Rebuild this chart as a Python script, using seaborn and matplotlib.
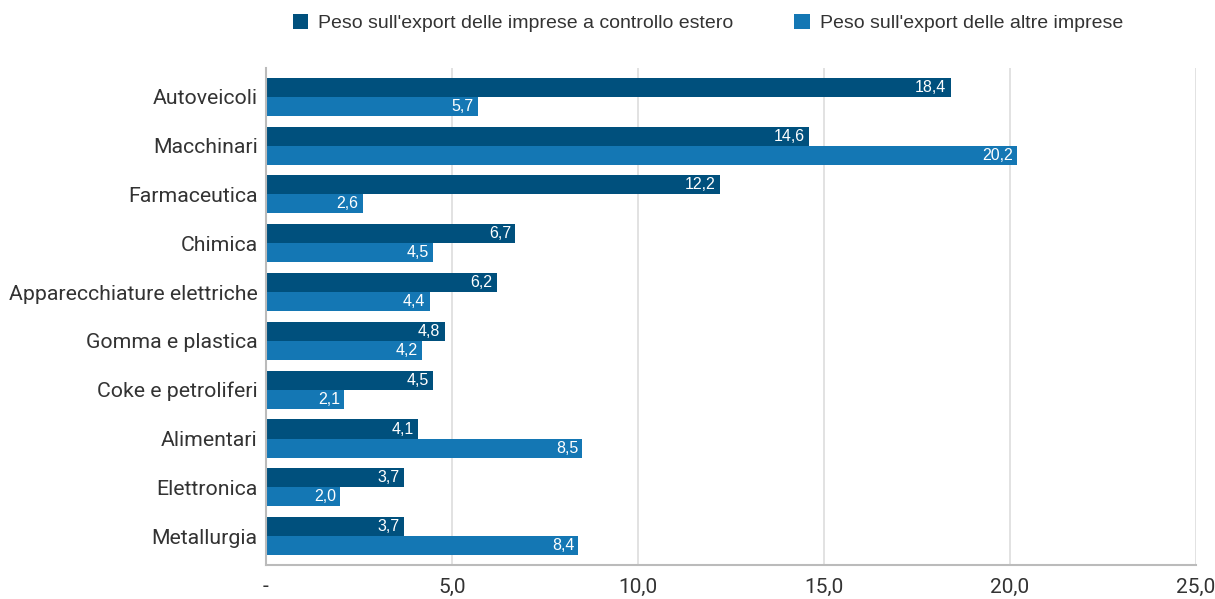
import matplotlib
matplotlib.use("Agg")
import matplotlib.pyplot as plt
import seaborn as sns
import pandas as pd

categories = ["Autoveicoli", "Macchinari", "Farmaceutica", "Chimica",
              "Apparecchiature elettriche", "Gomma e plastica",
              "Coke e petroliferi", "Alimentari", "Elettronica", "Metallurgia"]
estero = [18.4, 14.6, 12.2, 6.7, 6.2, 4.8, 4.5, 4.1, 3.7, 3.7]
altre = [5.7, 20.2, 2.6, 4.5, 4.4, 4.2, 2.1, 8.5, 2.0, 8.4]
series_names = ["Peso sull'export delle imprese a controllo estero",
                "Peso sull'export delle altre imprese"]
xticks = [0, 5, 10, 15, 20, 25]
xtick_labels = ["-", "5,0", "10,0", "15,0", "20,0", "25,0"]

df = pd.DataFrame({
    "cat": categories * 2,
    "val": estero + altre,
    "serie": [series_names[0]] * len(categories) + [series_names[1]] * len(categories),
})

sns.set_theme(style="white")
plt.rcParams["font.family"] = ["Roboto", "DejaVu Sans"]

fig = plt.figure(figsize=(12.15, 5.99), dpi=100)
ax = fig.add_axes([0.2189, 0.0568, 0.9844 - 0.2189, 0.8865 - 0.0568])

palette = ["#00507D", "#1477B4"]
sns.barplot(data=df, x="val", y="cat", hue="serie", orient="h", palette=palette,
            saturation=1, width=0.78, linewidth=0, ax=ax, legend=True)

ax.set_xlim(0, 25)
ax.set_ylim(9.59, -0.59)
ax.set_xticks(xticks)
ax.set_xticklabels(xtick_labels, fontsize=15, color="#333333")
ax.tick_params(axis="x", length=0, pad=9)
ax.tick_params(axis="y", length=0, pad=6, labelsize=15.3, labelcolor="#333333")
ax.set_xlabel("")
ax.set_ylabel("")
ax.grid(axis="x", color="#dddddd", linewidth=1.2)
ax.set_axisbelow(True)
for s in ["top", "right"]:
    ax.spines[s].set_visible(False)
for s in ["left", "bottom"]:
    ax.spines[s].set_color("#bbbbbb")
    ax.spines[s].set_linewidth(1.5)

for cont in ax.containers:
    labels = [f"{v:.1f}".replace(".", ",") for v in cont.datavalues]
    anns = ax.bar_label(cont, labels=labels, padding=-3, color="white",
                        fontsize=11.5, family=["Liberation Sans", "DejaVu Sans"])
    for a in anns:
        a.set_ha("right")

handles, labs = ax.get_legend_handles_labels()
ax.get_legend().remove()
fig.legend(handles, labs, loc="center left", bbox_to_anchor=(0.2265, 0.962), ncol=2,
           frameon=False, handlelength=0.8, handleheight=0.8, handletextpad=0.5,
           columnspacing=3.15, prop={"family": ["Liberation Sans", "DejaVu Sans"], "size": 14},
           labelcolor="#333333")

fig.savefig("out.png", dpi=100)
